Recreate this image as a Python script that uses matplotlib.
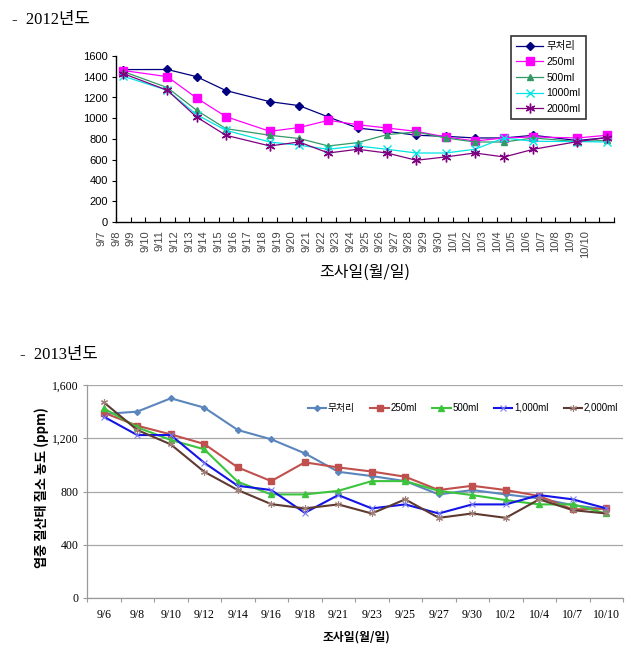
import matplotlib
matplotlib.use('Agg')
import matplotlib.pyplot as plt
import numpy as np

# ---------------- data ----------------
series_names_2012 = ['무처리', '250ml', '500ml', '1000ml', '2000ml']
dates_2012 = ['9/7', '9/8', '9/9', '9/10', '9/11', '9/12', '9/13', '9/14', '9/15', '9/16',
              '9/17', '9/18', '9/19', '9/20', '9/21', '9/22', '9/23', '9/24', '9/25', '9/26',
              '9/27', '9/28', '9/29', '9/30', '10/1', '10/2', '10/3', '10/4', '10/5', '10/6',
              '10/7', '10/8', '10/9', '10/10']
# day offsets of survey points on the 2012 date axis
days_2012 = [0, 3, 5, 7, 10, 12, 14, 16, 18, 20, 22, 24, 26, 28, 31, 33]
ctrl_2012 = [1469, 1470, 1401, 1267, 1160, 1122, 1012, 906, 874, 836, 826, 810, 810, 836, 785, 813]
v250_2012 = [1460, 1401, 1195, 1016, 874, 910, 980, 938, 906, 874, 820, 781, 810, 820, 810, 836]
v500_2012 = [1450, 1296, 1077, 900, 836, 805, 733, 765, 842, 868, 810, 771, 771, 810, 775, 787]
v1000_2012 = [1405, 1270, 1035, 884, 771, 740, 701, 733, 701, 665, 665, 701, 810, 778, 775, 771]
v2000_2012 = [1430, 1270, 1012, 836, 733, 771, 665, 701, 665, 595, 627, 665, 627, 701, 775, 813]

series_names_2013 = ['무처리', '250ml', '500ml', '1,000ml', '2,000ml']
dates_2013 = ['9/6', '9/8', '9/10', '9/12', '9/14', '9/16', '9/18', '9/21', '9/23', '9/25',
              '9/27', '9/30', '10/2', '10/4', '10/7', '10/10']
ctrl_2013 = [1382, 1400, 1500, 1430, 1262, 1192, 1087, 948, 916, 878, 778, 811, 778, 748, 698, 665]
v250_2013 = [1392, 1294, 1229, 1157, 981, 878, 1019, 981, 950, 911, 811, 843, 811, 766, 665, 673]
v500_2013 = [1425, 1282, 1187, 1117, 873, 778, 778, 805, 878, 878, 805, 773, 735, 703, 703, 635]
v1000_2013 = [1362, 1224, 1224, 1016, 843, 811, 640, 773, 673, 703, 635, 703, 703, 773, 741, 673]
v2000_2013 = [1470, 1262, 1154, 948, 811, 705, 673, 703, 635, 741, 602, 635, 602, 741, 660, 635]

yticks_2012 = [0, 200, 400, 600, 800, 1000, 1200, 1400, 1600]
yticks_2013 = [0, 400, 800, 1200, 1600]
ytick_labels_2013 = ['0', '400', '800', '1,200', '1,600']

# ---------------- figure ----------------
W, H = 631, 656
fig = plt.figure(figsize=(W / 100, H / 100), dpi=100)

SANS = ['Liberation Sans', 'Noto Sans CJK KR']
SERIF = ['Liberation Serif', 'Noto Sans CJK KR']
KR = ['Noto Sans CJK KR', 'DejaVu Sans']


def fx(px):
    return px / W


def fy(py):
    return 1 - py / H


# titles
fig.text(fx(12), fy(20), '-  2012년도', family=SERIF, fontsize=12, va='center', ha='left')
fig.text(fx(20), fy(355), '-  2013년도', family=SERIF, fontsize=12, va='center', ha='left')

# ---------------- 2012 chart ----------------
x0_px, x1_px = 116, 614
ppu = (x1_px - x0_px) / 34.0
xmin = -1.1
left_px = x0_px + xmin * ppu
ax1 = fig.add_axes([fx(left_px), fy(222), (x1_px - left_px) / W, (222 - 56) / H])
ax1.set_xlim(xmin, 34)
ax1.set_ylim(0, 1600)
for s in ['top', 'right']:
    ax1.spines[s].set_visible(False)
ax1.spines['left'].set_position(('data', 0))
ax1.spines['bottom'].set_bounds(0, 34)
for s in ['left', 'bottom']:
    ax1.spines[s].set_linewidth(1.0)
    ax1.spines[s].set_color('black')

xp = np.array(days_2012) + 0.5
style_2012 = [
    dict(color='#000080', marker='D', ms=4.5, mfc='#000080', mec='#000080'),
    dict(color='#FF00FF', marker='s', ms=5.5, mfc='#FF00FF', mec='#FF00FF'),
    dict(color='#339966', marker='^', ms=5.0, mfc='#339966', mec='#339966'),
    dict(color='#00E5E5', marker='x', ms=5.5, mew=1.0),
    dict(color='#800080', marker=(6, 2, 0), ms=7, mew=1.0),
]
data_2012 = [ctrl_2012, v250_2012, v500_2012, v1000_2012, v2000_2012]
for name, vals, st in zip(series_names_2012, data_2012, style_2012):
    ax1.plot(xp, vals, lw=0.9, label=name, **st)

ax1.set_yticks(yticks_2012)
ax1.set_yticklabels([str(v) for v in yticks_2012], family=SANS, fontsize=8)
ax1.tick_params(axis='y', direction='out', length=3, width=0.8, pad=3)
ax1.xaxis.remove_overlapping_locs = False
ax1.set_xticks(np.arange(0, 35))
ax1.set_xticklabels([])
ax1.tick_params(axis='x', which='major', direction='in', length=3.5, width=0.8)
ax1.set_xticks(np.arange(-1, 33), minor=True)
ax1.set_xticklabels(dates_2012, minor=True, family=SANS, fontsize=8, rotation=90, color='#444444')
ax1.tick_params(axis='x', which='minor', length=0, pad=6)

leg1 = ax1.legend(loc='upper left', bbox_to_anchor=(fx(511), fy(36)), bbox_transform=fig.transFigure,
                  borderaxespad=0, frameon=True, fancybox=False, edgecolor='black',
                  prop={'family': SANS, 'size': 7.5}, handlelength=2.6, handletextpad=0.3,
                  labelspacing=0.55, borderpad=0.5)
leg1.get_frame().set_linewidth(1.2)

fig.text(fx(365), fy(272), '조사일(월/일)', family=KR, fontsize=11.5, ha='center', va='center')

# ---------------- 2013 chart ----------------
ax2 = fig.add_axes([fx(87), fy(598), (623 - 87) / W, (598 - 385) / H])
ax2.set_xlim(0, 16)
ax2.set_ylim(0, 1600)
for s in ['top', 'right']:
    ax2.spines[s].set_visible(False)
for s in ['left', 'bottom']:
    ax2.spines[s].set_color('#9A9A9A')
    ax2.spines[s].set_linewidth(0.9)
ax2.set_yticks(yticks_2013)
ax2.set_yticklabels(ytick_labels_2013, family=SERIF, fontsize=8.5)
ax2.tick_params(axis='y', direction='out', length=3, width=0.8, color='#9A9A9A', pad=3)
ax2.grid(axis='y', color='#A8A8A8', lw=0.9)
ax2.set_axisbelow(True)
ax2.set_xticks(np.arange(0, 17))
ax2.set_xticklabels([])
ax2.tick_params(axis='x', which='major', direction='out', length=3, width=0.8, color='#9A9A9A')
ax2.set_xticks(np.arange(len(dates_2013)) + 0.5, minor=True)
ax2.set_xticklabels(dates_2013, minor=True, family=SERIF, fontsize=8.5)
ax2.tick_params(axis='x', which='minor', length=0, pad=8)

xq = np.arange(len(dates_2013)) + 0.5
style_2013 = [
    dict(color='#5B86BD', marker='D', ms=3, mfc='#5B86BD', mec='#5B86BD'),
    dict(color='#C0504D', marker='s', ms=4.5, mfc='#C0504D', mec='#C0504D'),
    dict(color='#3DC43D', marker='^', ms=4.5, mfc='#3DC43D', mec='#3DC43D'),
    dict(color='#1414E6', marker='x', ms=4, mew=0.8, mec='#8080F0'),
    dict(color='#5E3A30', marker=(6, 2, 0), ms=5, mew=0.8, mec='#A08078'),
]
data_2013 = [ctrl_2013, v250_2013, v500_2013, v1000_2013, v2000_2013]
for name, vals, st in zip(series_names_2013, data_2013, style_2013):
    ax2.plot(xq, vals, lw=1.5, label=name, **st)

ax2.legend(loc='center', bbox_to_anchor=((463 - 87) / 536, (598 - 408) / 213), ncol=5, frameon=False,
           prop={'family': SANS, 'size': 7}, handlelength=1.9, handletextpad=0.15,
           columnspacing=1.6, borderaxespad=0)

fig.text(fx(42), fy(488), '엽중 질산태 질소 농도 (ppm)', family=KR, fontsize=9.5, fontweight='bold',
         rotation=90, ha='center', va='center')
fig.text(fx(356), fy(637), '조사일(월/일)', family=KR, fontsize=8.5, fontweight='bold',
         ha='center', va='center')

fig.savefig('out.png', dpi=100)
